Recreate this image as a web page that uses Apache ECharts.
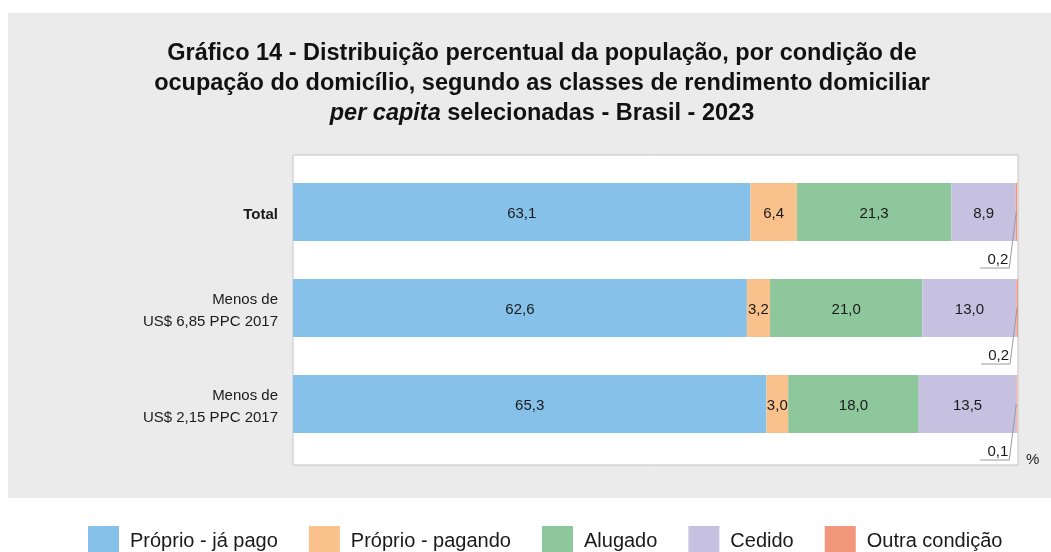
<!DOCTYPE html>
<html><head><meta charset="utf-8">
<script src="https://cdn.jsdelivr.net/npm/echarts@6/dist/echarts.min.js"></script>
<style>
html,body{margin:0;padding:0;background:#fff}
#panel{position:absolute;left:8px;top:13px;width:1043px;height:485px;background:#ebebeb}
#c{position:absolute;left:0;top:0;width:1051px;height:552px}
</style>
</head><body><div id="panel"></div><div id="c"></div>
<script>
const categories = ['Total', 'Menos de\nUS$ 6,85 PPC 2017', 'Menos de\nUS$ 2,15 PPC 2017'];
const seriesNames = ['Próprio - já pago', 'Próprio - pagando', 'Alugado', 'Cedido', 'Outra condição'];
const proprioJaPago = [63.1, 62.6, 65.3];
const proprioPagando = [6.4, 3.2, 3.0];
const alugado = [21.3, 21.0, 18.0];
const cedido = [8.9, 13.0, 13.5];
const outraCondicao = [0.2, 0.2, 0.1];
const colors = ['#85c1e9', '#f9c18b', '#8ec79b', '#c6c1e1', '#f2977b'];

const FONT = 'Liberation Sans';
const fmtNum = v => v.toFixed(1).replace('.', ',');
const fmt = p => fmtNum(p.value);
const BAR_W = 58;

const allSeries = [proprioJaPago, proprioPagando, alugado, cedido, outraCondicao];
const series = allSeries.map((d, i) => ({
  name: seriesNames[i], type: 'bar', stack: 'total', data: d,
  xAxisIndex: 1, yAxisIndex: 1, barWidth: BAR_W,
  itemStyle: { color: colors[i] },
  label: { show: i < 4, position: 'inside', offset: [0, 2], formatter: fmt, color: '#1a1a1a', fontSize: 15, fontFamily: FONT },
  emphasis: { disabled: true }
}));

// callout for the thin "Outra condição" segment: end of the stack, value label below with underline + leader
const calloutData = categories.map((c, i) => [allSeries.reduce((s, arr) => s + arr[i], 0), i, outraCondicao[i]]);
series.push({
  type: 'custom', xAxisIndex: 1, yAxisIndex: 1, silent: true, z: 5,
  data: calloutData,
  encode: { x: 0, y: 1 },
  renderItem: function (params, api) {
    const p = api.coord([api.value(0), api.value(1)]);
    const x = p[0], y = p[1];
    const ty = y + BAR_W / 2 + 19;
    const uy = ty + 8;
    return {
      type: 'group',
      children: [
        { type: 'text', style: { text: fmtNum(api.value(2)), x: x - 9, y: ty, align: 'right', verticalAlign: 'middle', fontSize: 15, fontFamily: FONT, fill: '#1a1a1a' } },
        { type: 'polyline', shape: { points: [[x - 37, uy], [x - 8, uy], [x - 1, y]] }, style: { stroke: '#9a9a9a', lineWidth: 1, fill: null } }
      ]
    };
  }
});

const chart = echarts.init(document.getElementById('c'), null, { renderer: 'canvas' });
chart.setOption({
  backgroundColor: 'transparent',
  animation: false,
  color: colors,
  title: {
    left: 537, top: 34, textAlign: 'center',
    text: '{b|Gráfico 14 - Distribuição percentual da população, por condição de}\n{b|ocupação do domicílio, segundo as classes de rendimento domiciliar}\n{i|per capita}{b| selecionadas - Brasil - 2023}',
    textStyle: {
      rich: {
        b: { fontSize: 23.5, fontWeight: 'bold', fontFamily: FONT, color: '#111', lineHeight: 30 },
        i: { fontSize: 23.5, fontWeight: 'bold', fontStyle: 'italic', fontFamily: FONT, color: '#111', lineHeight: 30 }
      }
    }
  },
  legend: {
    left: 88, top: 526, padding: 0, itemWidth: 31, itemHeight: 30, itemGap: 31,
    icon: 'rect',
    textStyle: { fontSize: 20, fontFamily: FONT, color: '#1a1a1a', padding: [0, 0, 0, 6] },
    data: seriesNames
  },
  graphic: [{
    type: 'text', left: 1026, top: 452,
    style: { text: '%', fontSize: 15, fontFamily: FONT, fill: '#1a1a1a' }
  }],
  grid: [
    { left: 293, right: 33, top: 155, bottom: 87, show: true, backgroundColor: '#fff', borderColor: '#c4c4c4', borderWidth: 1 },
    { left: 293, right: 33, top: 164, bottom: 100 }
  ],
  xAxis: [
    { gridIndex: 0, type: 'value', min: 0, max: 100, show: false },
    { gridIndex: 1, type: 'value', min: 0, max: 100, show: false }
  ],
  yAxis: [
    { gridIndex: 0, type: 'category', data: categories, show: false },
    {
      gridIndex: 1, type: 'category', data: categories, inverse: true,
      axisLine: { show: false }, axisTick: { show: false }, splitLine: { show: false },
      axisLabel: {
        margin: 15, fontSize: 15, fontFamily: FONT, color: '#1a1a1a', lineHeight: 22, align: 'right',
        padding: [5, 0, 0, 0],
        formatter: v => v === 'Total' ? '{t|' + v + '}' : v,
        rich: { t: { fontSize: 15, fontWeight: 'bold', fontFamily: FONT, color: '#1a1a1a' } }
      }
    }
  ],
  series: series
});
</script>
</body></html>
